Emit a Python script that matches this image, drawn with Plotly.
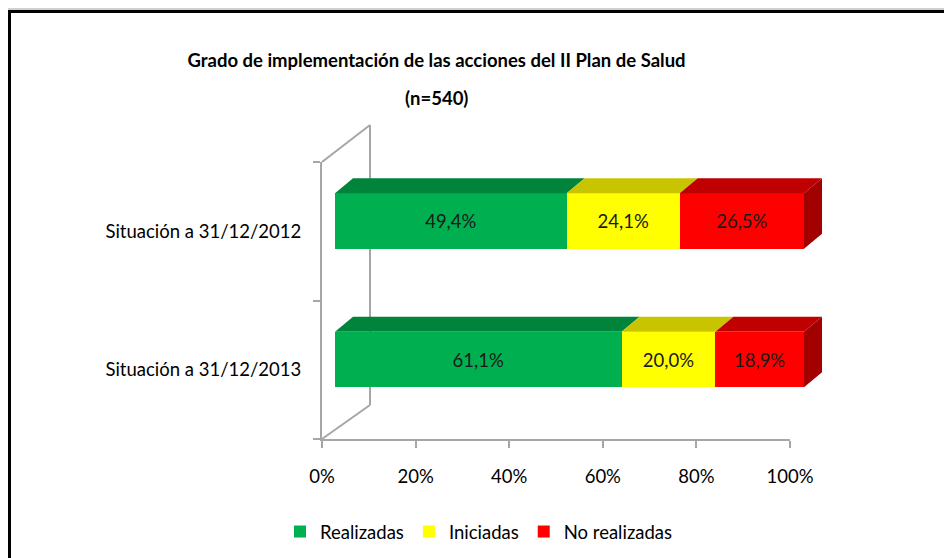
import plotly.graph_objects as go

# ---------------- data ----------------
categories = ["Situación a 31/12/2012", "Situación a 31/12/2013"]
series_names = ["Realizadas", "Iniciadas", "No realizadas"]
realizadas = [49.4, 61.1]
iniciadas = [24.1, 20.0]
no_realizadas = [26.5, 18.9]
x_tick_vals = [0, 20, 40, 60, 80, 100]
x_tick_text = ["0%", "20%", "40%", "60%", "80%", "100%"]

front_colors = ["#00B050", "#FFFF00", "#FF0000"]
top_colors = ["#00843C", "#C8C400", "#C00000"]
side_color = "#A30000"
wall_color = "#A6A6A6"
FONT = "Lato, Calibri, sans-serif"
FS = 18.5

W, H = 952, 558
OFF = 8  # page body margin of the html page


def px(x):
    return (x - OFF) / W


def py(y):
    return 1 - (y - OFF) / H


series = [realizadas, iniciadas, no_realizadas]
ypos = list(range(len(categories)))
bar_w = 0.4
# 3-D depth of the bars (axis units)
dx, dy = 3.84, 0.108

fig = go.Figure()

# invisible copy on the main (axis) subplot so that its axes are drawn
fig.add_trace(go.Bar(
    y=ypos, x=realizadas, orientation="h", showlegend=False,
    marker=dict(color="rgba(0,0,0,0)", line=dict(width=0)),
    hoverinfo="skip", xaxis="x", yaxis="y",
))

# front faces of the bars
for name, vals, col in zip(series_names, series, front_colors):
    fig.add_trace(go.Bar(
        y=ypos, x=vals, orientation="h", name=name,
        marker=dict(color=col, line=dict(width=0)),
        width=bar_w,
        texttemplate="%{x:.1f}%", textposition="inside",
        insidetextanchor="middle",
        textfont=dict(family=FONT, size=FS, color="#1a1a1a"),
        xaxis="x2", yaxis="y2", hoverinfo="skip",
    ))

# top faces (and right side face) built from cumulative values
for i, yc in enumerate(ypos):
    start = 0.0
    top = yc - bar_w / 2
    bot = yc + bar_w / 2
    for s, vals in enumerate(series):
        end = start + vals[i]
        fig.add_trace(go.Scatter(
            x=[start, end, end + dx, start + dx, start],
            y=[top, top, top - dy, top - dy, top],
            fill="toself", fillcolor=top_colors[s], mode="lines",
            line=dict(width=0, color=top_colors[s]),
            showlegend=False, hoverinfo="skip", xaxis="x2", yaxis="y2",
        ))
        start = end
    fig.add_trace(go.Scatter(
        x=[start, start + dx, start + dx, start, start],
        y=[top, top - dy, bot - dy, bot, top],
        fill="toself", fillcolor=side_color, mode="lines",
        line=dict(width=0, color=side_color),
        showlegend=False, hoverinfo="skip", xaxis="x2", yaxis="y2",
    ))

# scale: 0..100 on front plane spans px 335..804
x2_lo = (322 - 335) / 4.69
x2_hi = (840 - 335) / 4.69

shapes = [
    # back wall lines of the 3-D frame
    dict(type="line", xref="paper", yref="paper", x0=px(370), y0=py(125), x1=px(370), y1=py(405),
         line=dict(color=wall_color, width=2), layer="below"),
    dict(type="line", xref="paper", yref="paper", x0=px(322), y0=py(162), x1=px(370), y1=py(125),
         line=dict(color=wall_color, width=2), layer="below"),
    dict(type="line", xref="paper", yref="paper", x0=px(322), y0=py(439), x1=px(370), y1=py(405),
         line=dict(color=wall_color, width=2), layer="below"),
    # outer frame
    dict(type="line", xref="paper", yref="paper", x0=0, y0=py(9), x1=1.05, y1=py(9),
         line=dict(color="#A0A0A0", width=1), layer="above"),
    dict(type="rect", xref="paper", yref="paper", x0=1.5 / W, y0=py(11.5), x1=1.1, y1=-0.1,
         line=dict(color="#000000", width=3), layer="above"),
]

fig.update_layout(
    width=W, height=H,
    margin=dict(l=0, r=0, t=0, b=0, autoexpand=False),
    paper_bgcolor="white", plot_bgcolor="rgba(0,0,0,0)",
    separators=",.",
    barmode="stack",
    font=dict(family=FONT, size=FS, color="#000000"),
    title=dict(text="<b>Grado de implementación de las acciones del II Plan de Salud</b>",
               x=px(436.5), y=py(61), xanchor="center", yanchor="middle", xref="paper", yref="paper",
               font=dict(family=FONT, size=18.5, color="#000000")),
    annotations=[dict(text="<b>(n=540)</b>", x=px(436.5), y=py(98), xref="paper", yref="paper",
                      xanchor="center", yanchor="middle", showarrow=False,
                      font=dict(family=FONT, size=18.5, color="#000000"))],
    xaxis=dict(domain=[px(322), px(790)], range=[0, 100], anchor="y", automargin=False,
               tickvals=x_tick_vals, ticktext=x_tick_text,
               ticks="outside", ticklen=7, tickwidth=2, tickcolor=wall_color,
               showline=True, linecolor=wall_color, linewidth=2,
               showgrid=False, zeroline=False, ticklabelstandoff=13,
               tickfont=dict(family=FONT, size=FS, color="#000000"), fixedrange=True),
    yaxis=dict(domain=[py(439), py(162)], range=[1.5, -0.5], anchor="x", automargin=False,
               tickvals=ypos, ticktext=categories, ticks="",
               minor=dict(tickmode="array", tickvals=[-0.5, 0.5, 1.5], ticks="outside",
                          ticklen=7, tickwidth=2, tickcolor=wall_color, showgrid=False),
               showline=True, linecolor=wall_color, linewidth=2,
               showgrid=False, zeroline=False, ticklabelstandoff=15,
               tickfont=dict(family=FONT, size=FS, color="#000000"), fixedrange=True),
    xaxis2=dict(domain=[px(322), px(840)], range=[x2_lo, x2_hi], anchor="y2",
                visible=False, fixedrange=True),
    yaxis2=dict(domain=[py(439), py(162)], range=[1.574, -0.426], anchor="x2",
                visible=False, fixedrange=True),
    legend=dict(orientation="h", x=px(280), y=py(532), xanchor="left", yanchor="middle",
                traceorder="normal", font=dict(family=FONT, size=FS, color="#000000"),
                bgcolor="rgba(0,0,0,0)"),
    shapes=shapes,
    showlegend=True,
)

fig.write_html("out.html")
